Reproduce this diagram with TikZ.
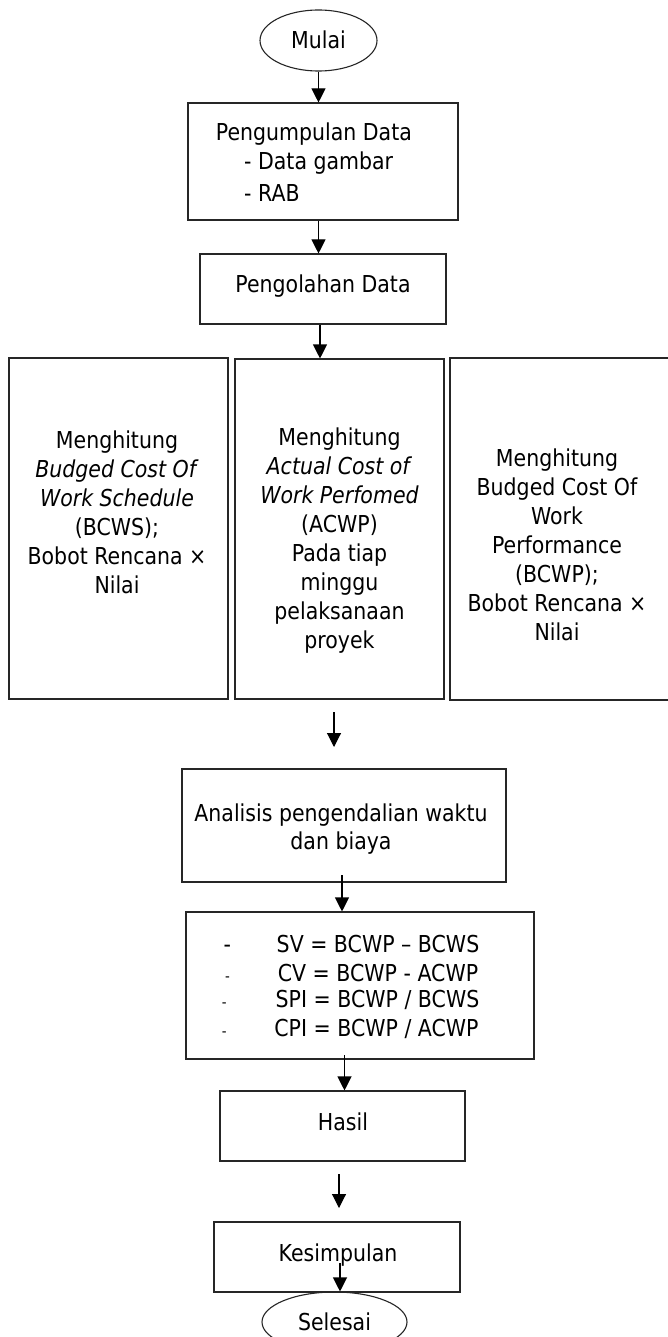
\documentclass[tikz,border=0pt]{standalone}
\usepackage{fontspec}
\setmainfont{DejaVu Sans}[FakeStretch=0.88]
\usetikzlibrary{arrows.meta,shapes.geometric}
\begin{document}
\begin{tikzpicture}[x=1pt,y=-1pt,
  box/.style={draw=black!85,line width=1.1pt,rectangle,inner sep=0pt},
  oval/.style={draw=black!85,line width=1.1pt,ellipse,inner sep=0pt},
  txt/.style={inner sep=0pt,anchor=base,font=\fontsize{23.3}{29}\selectfont,align=center},
  small/.style={inner sep=0pt,anchor=base west,font=\fontsize{15}{17}\selectfont},
  arr/.style={line width=1.1pt,-{Triangle[length=14pt,width=14pt]}}]
\useasboundingbox (0,0) rectangle (668,1337);
\fill[white] (0,0) rectangle (668,1337);

% start
\node[oval,minimum width=117pt,minimum height=61pt] (mulai) at (318.5,40.5) {};
\node[txt] (mulait) at (318.5,49) {Mulai};

% data collection
\node[box,minimum width=270pt,minimum height=117pt] (b1) at (323,161.5) {};
\node[txt,anchor=base west] (b1a) at (215.7,140.5) {Pengumpulan Data};
\node[txt,anchor=base west] (b1b) at (244,170) {- Data gambar};
\node[txt,anchor=base west] (b1c) at (244,201.5) {- RAB};

% processing
\node[box,minimum width=246pt,minimum height=70pt] (b2) at (323,289) {};
\node[txt] (b2t) at (323,292.5) {Pengolahan Data};

% three boxes
\node[box,minimum width=219pt,minimum height=341pt] (left) at (118.5,528.5) {};
\node[box,minimum width=209pt,minimum height=340pt] (mid) at (339.5,529) {};
\node[box,minimum width=222pt,minimum height=342pt] (right) at (561,529) {};
\node[txt] (leftt) at (117,593.5) {Menghitung\\ \textit{Budged Cost Of}\\ \textit{Work Schedule}\\ (BCWS);\\ Bobot Rencana ×\\ Nilai};
\node[txt] (midt) at (339.5,648.5) {Menghitung\\ \textit{Actual Cost of}\\ \textit{Work Perfomed}\\ (ACWP)\\ Pada tiap\\ minggu\\ pelaksanaan\\ proyek};
\node[txt] (rightt) at (557,640.5) {Menghitung\\ Budged Cost Of\\ Work\\ Performance\\ (BCWP);\\ Bobot Rencana ×\\ Nilai};

% analysis
\node[box,minimum width=324pt,minimum height=113pt] (an) at (344,825.5) {};
\node[txt] (ant) at (341,849) {Analisis pengendalian waktu\\[-1pt] dan biaya};

% formulas
\node[box,minimum width=348pt,minimum height=147pt] (sv) at (360,985.5) {};
\node[txt,anchor=base west] (d1) at (223.3,952.3) {-};
\node[small] (d2) at (225,981) {-};
\node[small] (d3) at (221.7,1007.7) {-};
\node[small] (d4) at (221.7,1036) {-};
\node[txt] (f1) at (378,952.3) {SV = BCWP – BCWS};
\node[txt] (f2) at (378,981) {CV = BCWP - ACWP};
\node[txt] (f3) at (377.5,1007.7) {SPI = BCWP / BCWS};
\node[txt] (f4) at (376.5,1036) {CPI = BCWP / ACWP};

% result
\node[box,minimum width=245pt,minimum height=70pt] (hasil) at (342.5,1126) {};
\node[txt] (hasilt) at (343,1130.5) {Hasil};

% conclusion
\node[box,minimum width=246pt,minimum height=70pt] (kes) at (337,1257) {};
\node[txt] (kest) at (338,1261.5) {Kesimpulan};

% end
\node[oval,minimum width=145pt,minimum height=60pt] (sel) at (334.5,1322) {};
\node[txt] (selt) at (334.5,1330) {Selesai};

% connectors
\draw[arr] (mulai.south) -- (mulai.south |- b1.north);
\draw[arr] ([xshift=-4.5pt]b1.south) -- ([xshift=-4.5pt]b2.north);
\draw[arr] ([xshift=-3pt]b2.south) -- ([xshift=-3pt]b2.south |- mid.north);
\coordinate (p1) at (334,712);
\coordinate (p2) at (334,747);
\draw[arr] (p1) -- (p2);
\coordinate (q1) at (342,875);
\draw[arr] (q1) -- (q1 |- sv.north);
\coordinate (r1) at (344.5,1055);
\draw[arr] (r1) -- (r1 |- hasil.north);
\coordinate (h1) at (339,1174);
\coordinate (h2) at (339,1208);
\draw[arr] (h1) -- (h2);
\coordinate (k1) at (340,1263);
\draw[arr] (k1) -- (k1 |- sel.north);
\end{tikzpicture}
\end{document}
